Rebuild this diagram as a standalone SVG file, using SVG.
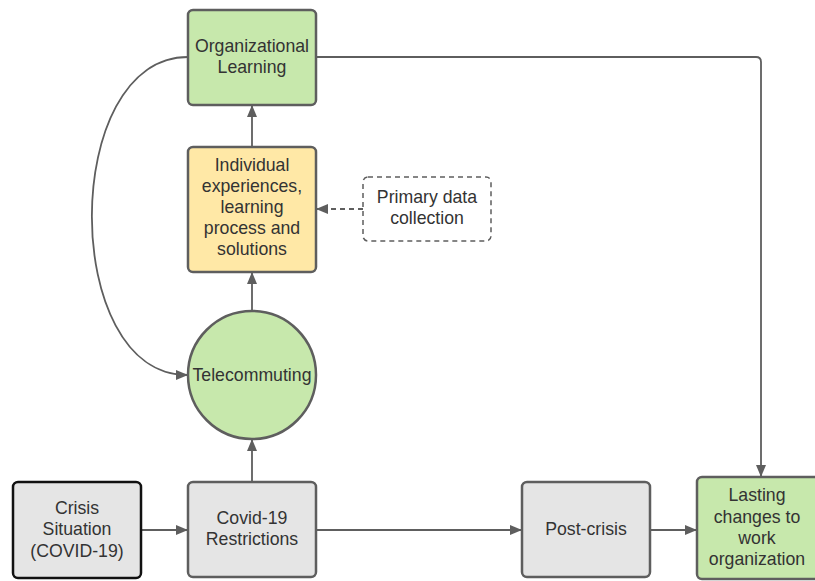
<svg xmlns="http://www.w3.org/2000/svg" width="815" height="581" viewBox="0 0 815 581">
<defs>
<marker id="ah" markerWidth="12" markerHeight="10" refX="11" refY="5" orient="auto" markerUnits="userSpaceOnUse">
<path d="M0,0 L12,5 L0,10 z" fill="#5e5e5e"/>
</marker>
<style>
.box{stroke:#5e5e5e;stroke-width:2.5}
.green{fill:#c7e8ac}
.yellow{fill:#ffe8a6}
.gray{fill:#e5e5e5}
.t{font-family:"Liberation Sans",Arial,sans-serif;font-size:17.7px;fill:#333;text-anchor:middle}
.c{fill:none;stroke:#5e5e5e;stroke-width:1.8}
</style>
</defs>
<rect width="815" height="581" fill="#fff"/>
<g id="connectors">
<path class="c" d="M316,57 H756 Q761,57 761,62 V476" marker-end="url(#ah)"/>
<path class="c" d="M188,57 C60,57 60,375 187,375" marker-end="url(#ah)"/>
<path class="c" d="M252,147 V106" marker-end="url(#ah)"/>
<path class="c" d="M252,311 V273" marker-end="url(#ah)"/>
<path class="c" d="M252,482 V440" marker-end="url(#ah)"/>
<path class="c" d="M141,530 H187" marker-end="url(#ah)"/>
<path class="c" d="M316,530 H521" marker-end="url(#ah)"/>
<path class="c" d="M650,530 H696" marker-end="url(#ah)"/>
<path class="c" d="M363,209 H317" stroke-dasharray="5,4" marker-end="url(#ah)"/>
</g>
<g id="org-learning">
<rect class="box green" x="188" y="10" width="128" height="95" rx="5"/>
<text class="t" x="252" y="52">Organizational</text>
<text class="t" x="252" y="73">Learning</text>
</g>
<g id="individual">
<rect class="box yellow" x="188" y="147" width="128" height="125" rx="5"/>
<text class="t" x="252" y="171">Individual</text>
<text class="t" x="252" y="192">experiences,</text>
<text class="t" x="252" y="213">learning</text>
<text class="t" x="252" y="234">process and</text>
<text class="t" x="252" y="255">solutions</text>
</g>
<g id="primary-data">
<rect x="363" y="177" width="128" height="64" rx="5" fill="#fff" stroke="#5e5e5e" stroke-width="1.5" stroke-dasharray="5,4"/>
<text class="t" x="427" y="203">Primary data</text>
<text class="t" x="427" y="224">collection</text>
</g>
<g id="telecommuting">
<circle class="box green" cx="252" cy="375" r="64"/>
<text class="t" x="252" y="381">Telecommuting</text>
</g>
<g id="crisis">
<rect class="gray" x="13" y="482" width="128" height="96" rx="5" stroke="#111" stroke-width="2.5"/>
<text class="t" x="77" y="514">Crisis</text>
<text class="t" x="77" y="535">Situation</text>
<text class="t" x="77" y="557">(COVID-19)</text>
</g>
<g id="covid-restrictions">
<rect class="box gray" x="188" y="482" width="128" height="95" rx="5"/>
<text class="t" x="252" y="524">Covid-19</text>
<text class="t" x="252" y="545">Restrictions</text>
</g>
<g id="post-crisis">
<rect class="box gray" x="522" y="482" width="128" height="95" rx="5"/>
<text class="t" x="586" y="535">Post-crisis</text>
</g>
<g id="lasting-changes">
<rect class="box green" x="697" y="477" width="128" height="102" rx="5"/>
<text class="t" x="757" y="501">Lasting</text>
<text class="t" x="757" y="523">changes to</text>
<text class="t" x="757" y="544">work</text>
<text class="t" x="757" y="565">organization</text>
</g>
</svg>
